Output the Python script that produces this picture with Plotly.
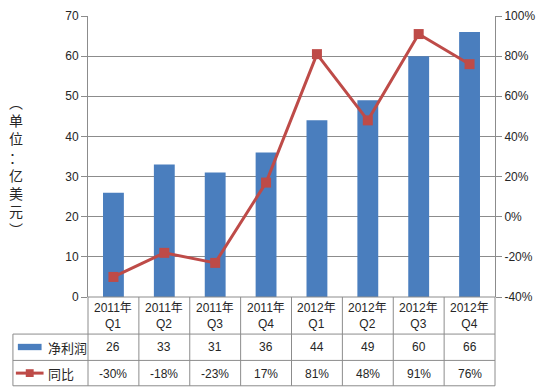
import plotly.graph_objects as go

years = ["2011年", "2011年", "2011年", "2011年", "2012年", "2012年", "2012年", "2012年"]
quarters = ["Q1", "Q2", "Q3", "Q4", "Q1", "Q2", "Q3", "Q4"]
categories = [f"{y}<br>{q}" for y, q in zip(years, quarters)]
net_profit = [26, 33, 31, 36, 44, 49, 60, 66]
yoy = [-30, -18, -23, 17, 81, 48, 91, 76]
series_names = ["净利润", "同比"]
y_title = "（单位：亿美元）"
left_ticks = [0, 10, 20, 30, 40, 50, 60, 70]
right_ticks = [-40, -20, 0, 20, 40, 60, 80, 100]

BAR = "#4A7EBE"
LINE = "#BE4B48"
GRID = "#8C8C8C"
TXT = "#262626"
FONT = "Liberation Sans, Noto Sans CJK SC"

W, H = 544, 390
L, R, T, B = 88, 44, 9, 93
pw, ph = W - L - R, H - T - B

def px(x):
    return (x - L) / pw

def py(y):
    return (H - B - y) / ph

fig = go.Figure()
fig.add_trace(go.Bar(x=categories, y=net_profit, name=series_names[0],
                     marker=dict(color=BAR, line=dict(width=0)), width=0.41))
fig.add_trace(go.Scatter(x=categories, y=yoy, name=series_names[1], yaxis="y2",
                         mode="lines+markers",
                         line=dict(color=LINE, width=3),
                         marker=dict(symbol="square", size=10, color=LINE)))

shapes = []
ann = []
n = len(categories)
colw = pw / n
rows = [297, 335, 362, 388]
shapes.append(dict(type="line", xref="paper", yref="paper", x0=px(88), x1=px(500),
                   y0=py(rows[0]), y1=py(rows[0]), line=dict(color=GRID, width=1)))
for r in rows[1:]:
    shapes.append(dict(type="line", xref="paper", yref="paper", x0=px(12), x1=px(500),
                       y0=py(r), y1=py(r), line=dict(color=GRID, width=1)))
for i in range(n + 1):
    xx = 88 + i * colw
    shapes.append(dict(type="line", xref="paper", yref="paper", x0=px(xx), x1=px(xx),
                       y0=py(rows[0]), y1=py(rows[3]), line=dict(color=GRID, width=1)))
shapes.append(dict(type="line", xref="paper", yref="paper", x0=px(12), x1=px(12),
                   y0=py(rows[1]), y1=py(rows[3]), line=dict(color=GRID, width=1)))
shapes.append(dict(type="rect", xref="paper", yref="paper", x0=px(17), x1=px(41),
                   y0=py(351.5), y1=py(345), fillcolor=BAR, line=dict(width=0)))
shapes.append(dict(type="line", xref="paper", yref="paper", x0=px(15), x1=px(43),
                   y0=py(375), y1=py(375), line=dict(color=LINE, width=3)))
shapes.append(dict(type="rect", xref="paper", yref="paper", x0=px(25), x1=px(33),
                   y0=py(379), y1=py(371), fillcolor=LINE, line=dict(width=0)))

for i in range(n):
    ann.append(dict(x=i, xref="x", y=py(316), yref="paper", text=categories[i],
                    showarrow=False, font=dict(size=12, color=TXT, family=FONT),
                    xanchor="center", yanchor="middle"))
    ann.append(dict(x=i, xref="x", y=py(348.5), yref="paper", text=str(net_profit[i]),
                    showarrow=False, font=dict(size=12, color=TXT, family=FONT),
                    xanchor="center", yanchor="middle"))
    ann.append(dict(x=i, xref="x", y=py(375.5), yref="paper", text=f"{yoy[i]}%",
                    showarrow=False, font=dict(size=12, color=TXT, family=FONT),
                    xanchor="center", yanchor="middle"))
ann.append(dict(x=px(45), xref="paper", y=py(348.5), yref="paper", text=series_names[0],
                showarrow=False, font=dict(size=13, color=TXT, family="Noto Sans CJK SC"),
                xanchor="left", yanchor="middle"))
ann.append(dict(x=px(45), xref="paper", y=py(375.5), yref="paper", text=series_names[1],
                showarrow=False, font=dict(size=13, color=TXT, family="Noto Sans CJK SC"),
                xanchor="left", yanchor="middle"))
vt = y_title.replace("（", "︵").replace("）", "︶")
ann.append(dict(x=px(15), xref="paper", y=py(162), yref="paper",
                text="<br>".join(list(vt)), showarrow=False,
                font=dict(size=14, color=TXT, family="Noto Sans CJK SC"),
                xanchor="center", yanchor="middle"))

fig.update_layout(
    width=W, height=H,
    margin=dict(l=L, r=R, t=T, b=B),
    paper_bgcolor="white", plot_bgcolor="white",
    showlegend=False,
    font=dict(family=FONT, size=12, color=TXT),
    xaxis=dict(type="category", showticklabels=False, showgrid=False, ticks="",
               showline=False, range=[-0.5, n - 0.5], zeroline=False),
    yaxis=dict(range=[0, 70], tickvals=left_ticks, ticktext=[str(v) for v in left_ticks],
               showgrid=True, gridcolor=GRID, gridwidth=1,
               showline=True, linecolor=GRID, ticks="outside", ticklen=6, tickcolor=GRID,
               zeroline=False, tickfont=dict(size=12, color=TXT)),
    yaxis2=dict(range=[-40, 100], tickvals=right_ticks,
                ticktext=[f"{v}%" for v in right_ticks],
                overlaying="y", side="right", showgrid=False,
                showline=True, linecolor=GRID, ticks="outside", ticklen=6, tickcolor=GRID,
                zeroline=False, tickfont=dict(size=12, color=TXT)),
    shapes=shapes, annotations=ann,
)

fig.write_html("out.html", config={"displayModeBar": False},
               post_script="document.body.style.margin='0';document.body.style.overflow='hidden';")
